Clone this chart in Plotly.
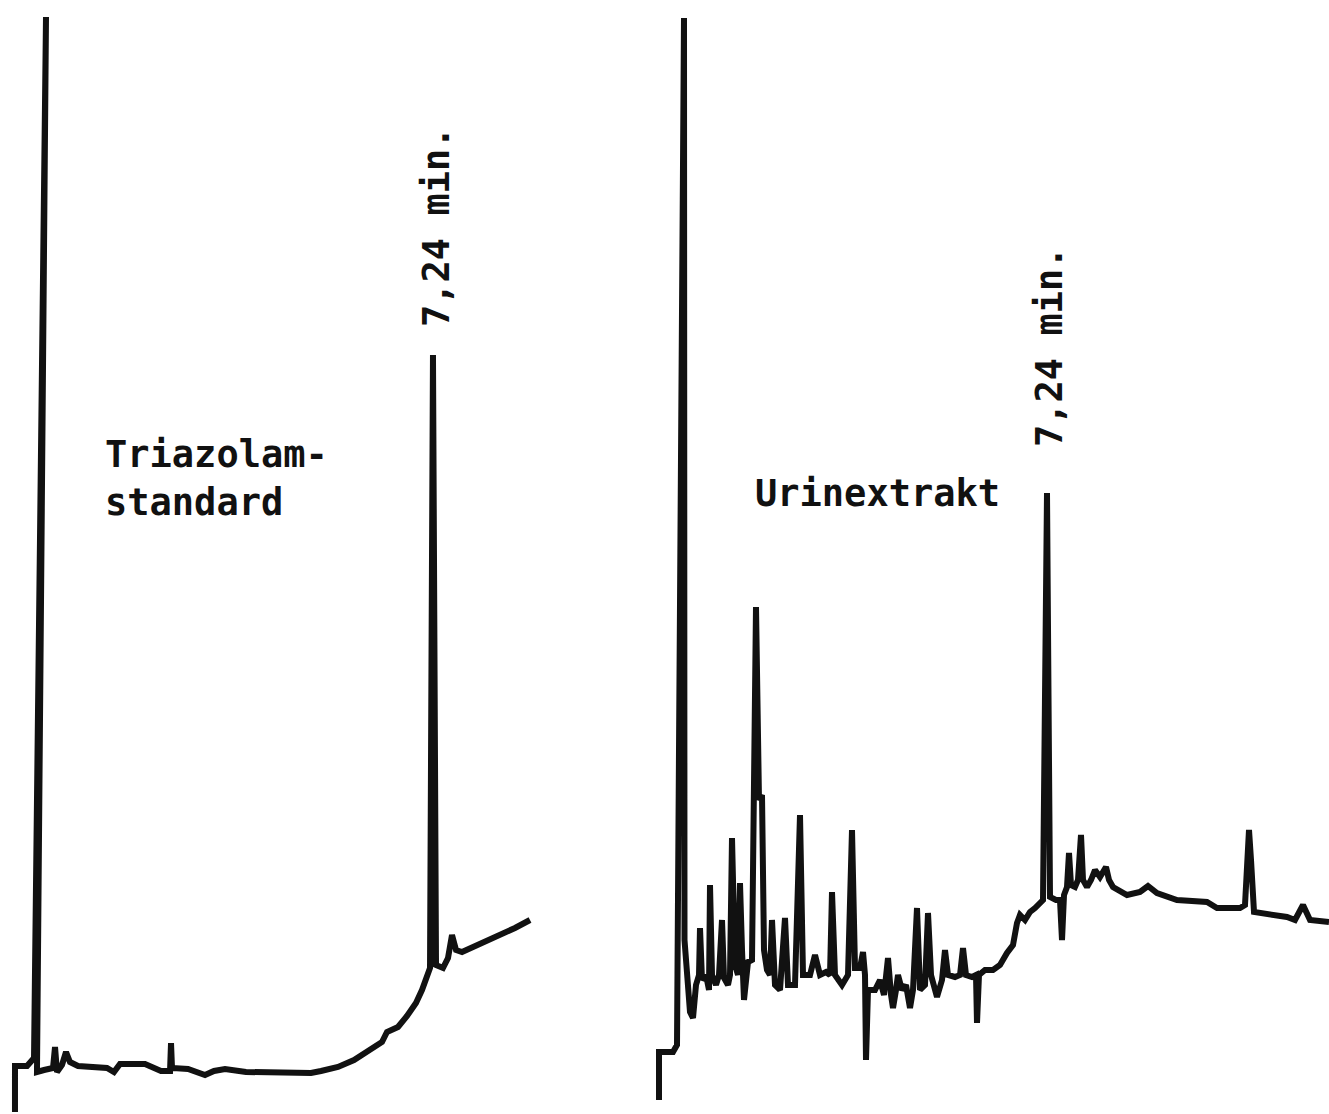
import plotly.graph_objects as go

# ---- Left chromatogram: Triazolam standard (time in min, response in % full scale)
std_time = [-0.364, -0.364, -0.145, -0.018, 0.2, 0.036, 0.164, 0.327, 0.364, 0.4,
            0.491, 0.564, 0.636, 0.782, 1.309, 1.436, 1.545, 2.0, 2.291, 2.455,
            2.473, 2.491, 2.782, 3.091, 3.255, 3.455, 3.836, 4.436, 5.018, 5.2,
            5.509, 5.8, 6.091, 6.309, 6.4, 6.6, 6.764, 6.927, 7.036, 7.127,
            7.182, 7.236, 7.291, 7.418, 7.509, 7.582, 7.655, 7.764, 8.091, 8.455,
            8.727, 9.0]
std_resp = [-0.2, 4.4, 4.4, 5.2, 109.3, 3.8, 4.0, 4.2, 6.3, 3.8,
            4.5, 5.8, 4.8, 4.4, 4.2, 3.8, 4.6, 4.6, 3.9, 3.9,
            6.7, 4.2, 4.1, 3.5, 3.9, 4.1, 3.8, 3.7, 3.7, 3.9,
            4.3, 5.0, 6.0, 6.8, 7.8, 8.3, 9.4, 10.7, 12.0, 13.2,
            14.2, 75.5, 14.5, 14.2, 15.2, 17.5, 16.0, 15.8, 16.6, 17.4,
            18.2, 19.0]

# ---- Right chromatogram: urine extract
uri_time = [-0.52, -0.52, -0.24, -0.16, -0.02, -0.01, 0.1, 0.16, 0.22, 0.28,
            0.3, 0.34, 0.42, 0.48, 0.5, 0.54, 0.62, 0.68, 0.74, 0.78,
            0.86, 0.9, 0.94, 1.0, 1.06, 1.1, 1.14, 1.18, 1.26, 1.34,
            1.42, 1.48, 1.54, 1.58, 1.64, 1.7, 1.74, 1.8, 1.9, 2.0,
            2.06, 2.2, 2.3, 2.36, 2.5, 2.6, 2.7, 2.82, 2.9, 2.94,
            3.0, 3.14, 3.26, 3.34, 3.4, 3.5, 3.56, 3.6, 3.62, 3.66,
            3.8, 3.9, 3.98, 4.06, 4.12, 4.16, 4.22, 4.26, 4.34, 4.42,
            4.5, 4.56, 4.64, 4.7, 4.8, 4.86, 4.92, 5.04, 5.14, 5.2,
            5.26, 5.4, 5.5, 5.56, 5.62, 5.74, 5.82, 5.84, 5.88, 6.0,
            6.16, 6.3, 6.44, 6.56, 6.64, 6.7, 6.8, 6.9, 7.0, 7.1,
            7.16, 7.24, 7.3, 7.42, 7.5, 7.54, 7.58, 7.64, 7.68, 7.72,
            7.8, 7.86, 7.92, 7.96, 8.04, 8.12, 8.2, 8.3, 8.42, 8.48,
            8.56, 8.84, 9.1, 9.26, 9.44, 9.84, 10.44, 10.64, 11.1, 11.2,
            11.28, 11.32, 11.38, 12.04, 12.2, 12.36, 12.5, 12.88]
uri_resp = [1.0, 5.8, 5.8, 6.5, 109.2, 17.0, 9.8, 9.2, 12.5, 13.5,
            18.2, 13.0, 13.5, 12.0, 22.5, 13.5, 12.5, 13.5, 19.0, 13.2,
            12.5, 13.5, 27.2, 14.5, 13.5, 22.7, 16.0, 11.0, 14.8, 15.0,
            50.3, 31.0, 31.5, 16.0, 14.0, 13.5, 19.0, 12.5, 12.0, 19.2,
            12.5, 12.5, 29.5, 13.5, 13.5, 15.5, 13.5, 13.8, 13.5, 21.8,
            13.5, 12.5, 13.5, 28.0, 14.2, 14.2, 15.8, 13.5, 5.0, 12.0,
            12.0, 13.0, 11.5, 15.2, 11.5, 10.2, 12.0, 13.5, 12.0, 12.5,
            10.2, 12.0, 20.2, 12.0, 12.5, 19.7, 13.5, 11.3, 13.0, 16.0,
            13.5, 13.3, 13.5, 16.2, 13.5, 13.3, 13.5, 8.7, 13.5, 14.0,
            14.0, 14.5, 15.7, 16.5, 18.7, 19.5, 19.0, 19.8, 20.2, 20.7,
            21.0, 61.7, 21.3, 21.0, 21.0, 17.0, 21.5, 22.3, 25.7, 22.5,
            22.3, 23.0, 27.5, 23.0, 22.3, 23.0, 24.0, 23.3, 24.3, 23.0,
            22.3, 21.5, 21.8, 22.4, 21.7, 21.0, 20.8, 20.2, 20.2, 20.5,
            28.0, 25.0, 19.8, 19.3, 19.0, 20.5, 19.0, 18.8]

label_std = "Triazolam-<br>standard"
label_uri = "Urinextrakt"
label_rt = "7,24 min."

W, H = 1329, 1114
ink = "#111111"
font = dict(family="DejaVu Sans Mono", size=37, color=ink)

fig = go.Figure()
fig.add_trace(go.Scatter(x=std_time, y=std_resp, mode="lines", xaxis="x", yaxis="y",
                         line=dict(color=ink, width=6), hoverinfo="skip", showlegend=False))
fig.add_trace(go.Scatter(x=uri_time, y=uri_resp, mode="lines", xaxis="x2", yaxis="y",
                         line=dict(color=ink, width=6), hoverinfo="skip", showlegend=False))

hidden = dict(visible=False, showgrid=False, zeroline=False, fixedrange=True)
fig.update_layout(
    width=W, height=H, autosize=False,
    margin=dict(l=0, r=0, t=0, b=0, pad=0),
    paper_bgcolor="white", plot_bgcolor="white",
    xaxis=dict(domain=[0, 1], range=[-35 / 55, (W - 35) / 55], **hidden),
    xaxis2=dict(domain=[0, 1], range=[-685 / 50, (W - 685) / 50], overlaying="x", **hidden),
    yaxis=dict(domain=[0, 1], range=[-0.4, 111.0], **hidden),
)

def ann(text, x, y, angle=0, xanchor="center", yanchor="middle"):
    fig.add_annotation(text="<b>" + text.replace("<br>", "</b><br><b>") + "</b>",
                       x=x / W, y=1 - y / H, xref="paper", yref="paper",
                       showarrow=False, textangle=angle, font=font, align="left",
                       xanchor=xanchor, yanchor=yanchor)

ann(label_std, 103, 478, xanchor="left")
ann(label_uri, 753, 493, xanchor="left")
ann(label_rt, 436, 227, angle=-90)
ann(label_rt, 1049, 347, angle=-90)

fig.write_html("out.html")
